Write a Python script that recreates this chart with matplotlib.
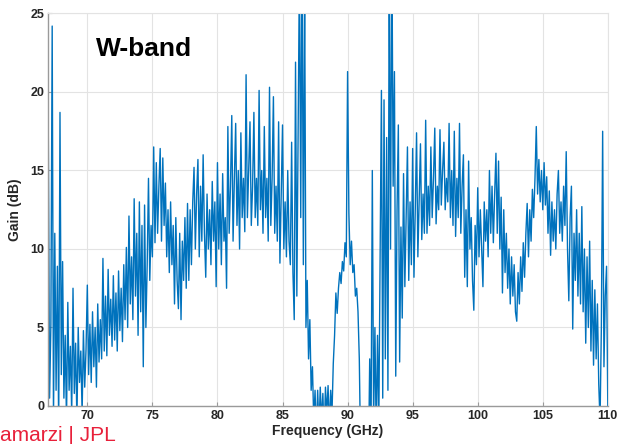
import matplotlib
matplotlib.use("Agg")
import matplotlib.pyplot as plt
import numpy as np

# Frequency grid (GHz), 0.1 GHz steps from 67 to 110
freq = np.round(np.arange(67.0, 110.05, 0.1), 1)

# Gain (dB), one row per GHz
gain = [
    17.5, 0.5, 5.2, 24.2, -1.0, 11.0, 1.0, 8.9, -1.5, 18.7,      # 67
    2.0, 9.2, 0.5, 4.5, -1.0, 6.6, 1.0, 3.8, -0.5, 7.5,         # 68
    0.8, 4.0, -1.0, 5.0, 1.5, 3.5, -0.5, 4.8, 1.2, 3.6,         # 69
    7.7, 2.0, 5.2, 1.5, 6.0, 2.5, 5.0, 1.2, 6.5, 2.8,           # 70
    5.5, 3.0, 9.4, 3.5, 7.0, 3.2, 8.7, 4.5, 6.8, 3.8,           # 71
    8.3, 4.2, 7.2, 3.5, 8.6, 4.8, 7.5, 4.1, 9.0, 5.5,           # 72
    10.1, 5.0, 12.1, 6.5, 9.5, 5.5, 13.2, 7.0, 11.0, 4.5,       # 73
    13.0, 6.0, 11.5, 2.5, 12.8, 5.0, 9.0, 14.5, 8.0, 11.5,      # 74
    9.5, 16.5, 10.4, 15.5, 11.0, 14.0, 16.4, 10.5, 15.8, 11.5,  # 75
    14.2, 9.5, 12.5, 8.5, 13.0, 9.0, 11.5, 6.5, 12.0, 8.0,      # 76
    6.2, 11.0, 5.5, 10.5, 8.0, 12.0, 7.5, 12.9, 8.0, 12.5,      # 77
    9.0, 13.0, 15.2, 10.0, 13.5, 15.7, 9.5, 14.0, 10.5, 16.0,   # 78
    11.0, 8.2, 13.5, 10.0, 12.5, 9.0, 14.3, 10.5, 13.0, 7.6,    # 79
    15.5, 10.0, 13.5, 9.0, 14.8, 10.5, 12.0, 7.5, 17.8, 11.0,   # 80
    14.0, 18.5, 10.5, 14.5, 18.0, 11.5, 15.0, 10.0, 17.4, 12.0, # 81
    14.5, 11.1, 21.1, 12.0, 15.0, 18.1, 11.5, 14.0, 18.7, 12.0, # 82
    14.5, 11.5, 20.1, 12.5, 15.0, 11.0, 17.8, 12.0, 14.5, 10.5, # 83
    20.3, 11.5, 14.5, 19.7, 11.0, 14.0, 10.5, 18.1, 9.1, 13.5,  # 84
    17.9, 10.0, 13.0, 9.5, 15.0, 10.5, 9.0, 16.8, 8.5, 5.5,     # 85
    21.9, 7.0, 18.0, 28.0, 12.0, 30.0, 9.0, 27.0, 5.0, 8.0,     # 86
    3.0, 5.5, 1.0, 2.5, -1.0, 1.0, -2.0, 1.0, -1.5, 1.2,        # 87
    -1.0, 0.8, -2.0, 1.2, -0.5, 1.3, -1.5, 1.0, -0.5, 2.7,      # 88
    4.5, 7.2, 5.9, 7.5, 8.5, 7.8, 9.2, 8.6, 10.4, 9.5,          # 89
    21.3, 12.3, 9.0, 10.5, 8.5, 9.0, 7.0, 7.5, 6.0, 3.0,        # 90
    -3.0, -5.0, -6.0, -5.0, -6.0, -5.0, -4.0, 3.0, -2.0, 15.0,  # 91
    -1.0, 5.0, -2.0, 4.5, -1.0, 9.7, 20.1, 0.5, 19.5, 3.0,      # 92
    17.1, 1.0, 28.0, 10.0, 30.0, 14.0, 21.3, 1.9, 12.5, 17.9,   # 93
    2.8, 11.4, 5.6, 14.8, 7.6, 12.0, 16.5, 8.0, 13.0, 9.0,      # 94
    16.4, 8.2, 12.5, 17.4, 9.5, 13.0, 16.7, 10.6, 13.5, 11.0,   # 95
    18.2, 11.0, 14.0, 11.5, 16.5, 12.0, 14.5, 17.7, 11.6, 14.0, # 96
    12.5, 17.6, 12.8, 15.0, 16.8, 12.5, 14.5, 13.0, 18.0, 12.0, # 97
    15.0, 11.5, 17.5, 10.8, 14.5, 12.0, 18.0, 11.0, 14.0, 16.0, # 98
    8.2, 12.5, 7.6, 15.6, 10.0, 12.0, 8.0, 6.1, 11.5, 9.0,      # 99
    13.9, 9.5, 12.5, 10.0, 7.6, 13.0, 10.5, 12.5, 9.5, 15.0,    # 100
    11.0, 14.0, 10.4, 13.5, 16.1, 11.0, 15.6, 10.0, 13.3, 7.2,  # 101
    12.5, 8.5, 11.0, 7.5, 10.0, 6.5, 9.5, 7.0, 9.0, 6.0,        # 102
    5.4, 8.5, 6.5, 9.5, 7.3, 10.4, 8.2, 11.0, 12.9, 9.5,        # 103
    12.5, 10.5, 13.8, 12.0, 14.5, 17.8, 13.5, 15.7, 13.0, 15.0, # 104
    12.5, 15.5, 12.8, 14.6, 11.0, 13.7, 9.6, 13.0, 10.5, 12.5,  # 105
    10.0, 13.5, 15.0, 11.0, 13.0, 10.5, 14.0, 11.5, 16.2, 10.0, # 106
    6.7, 12.0, 14.0, 4.9, 11.0, 8.0, 12.5, 7.0, 11.0, 6.5,      # 107
    12.7, 6.0, 10.0, 4.0, 9.5, 5.0, 10.5, 3.5, 8.0, 2.6,        # 108
    7.4, 3.0, 6.5, 1.4, -1.0, 5.0, 17.5, 2.5, 7.0, 8.9,         # 109
    -0.5,                                                       # 110
]

plt.rcParams['font.family'] = ['Liberation Sans', 'DejaVu Sans']

fig = plt.figure(figsize=(6.19, 4.44), dpi=100)
ax = fig.add_axes([0.078, 0.0856, 0.904, 0.884])

ax.plot(freq, gain, color='#0072BD', lw=1.0)

ax.set_xlim(67, 110)
ax.set_ylim(0, 25)
ax.set_xticks(np.arange(70, 111, 5))
ax.set_yticks(np.arange(0, 26, 5))
ax.grid(True, color='#e3e3e3', lw=0.8)
ax.set_axisbelow(True)

for s in ['top', 'right']:
    ax.spines[s].set_color('#e3e3e3')
for s in ['left', 'bottom']:
    ax.spines[s].set_color('#9a9a9a')
    ax.spines[s].set_linewidth(1.0)

ax.tick_params(direction='in', length=3, color='#9a9a9a', pad=3,
               labelsize=9, labelcolor='#262626')
for lbl in ax.get_xticklabels() + ax.get_yticklabels():
    lbl.set_fontweight('bold')

ax.set_xlabel('Frequency (GHz)', fontsize=10, fontweight='bold', color='#262626', labelpad=1)
ax.set_ylabel('Gain (dB)', fontsize=10, fontweight='bold', color='#262626', labelpad=6)

ax.text(70.7, 22.3, 'W-band', fontsize=19, fontweight='bold', color='black', va='baseline')

fig.text(0.0, 0.007, 'amarzi | JPL', fontsize=15, color='#e8203a', ha='left', va='baseline')

fig.savefig('out.png', dpi=100)
